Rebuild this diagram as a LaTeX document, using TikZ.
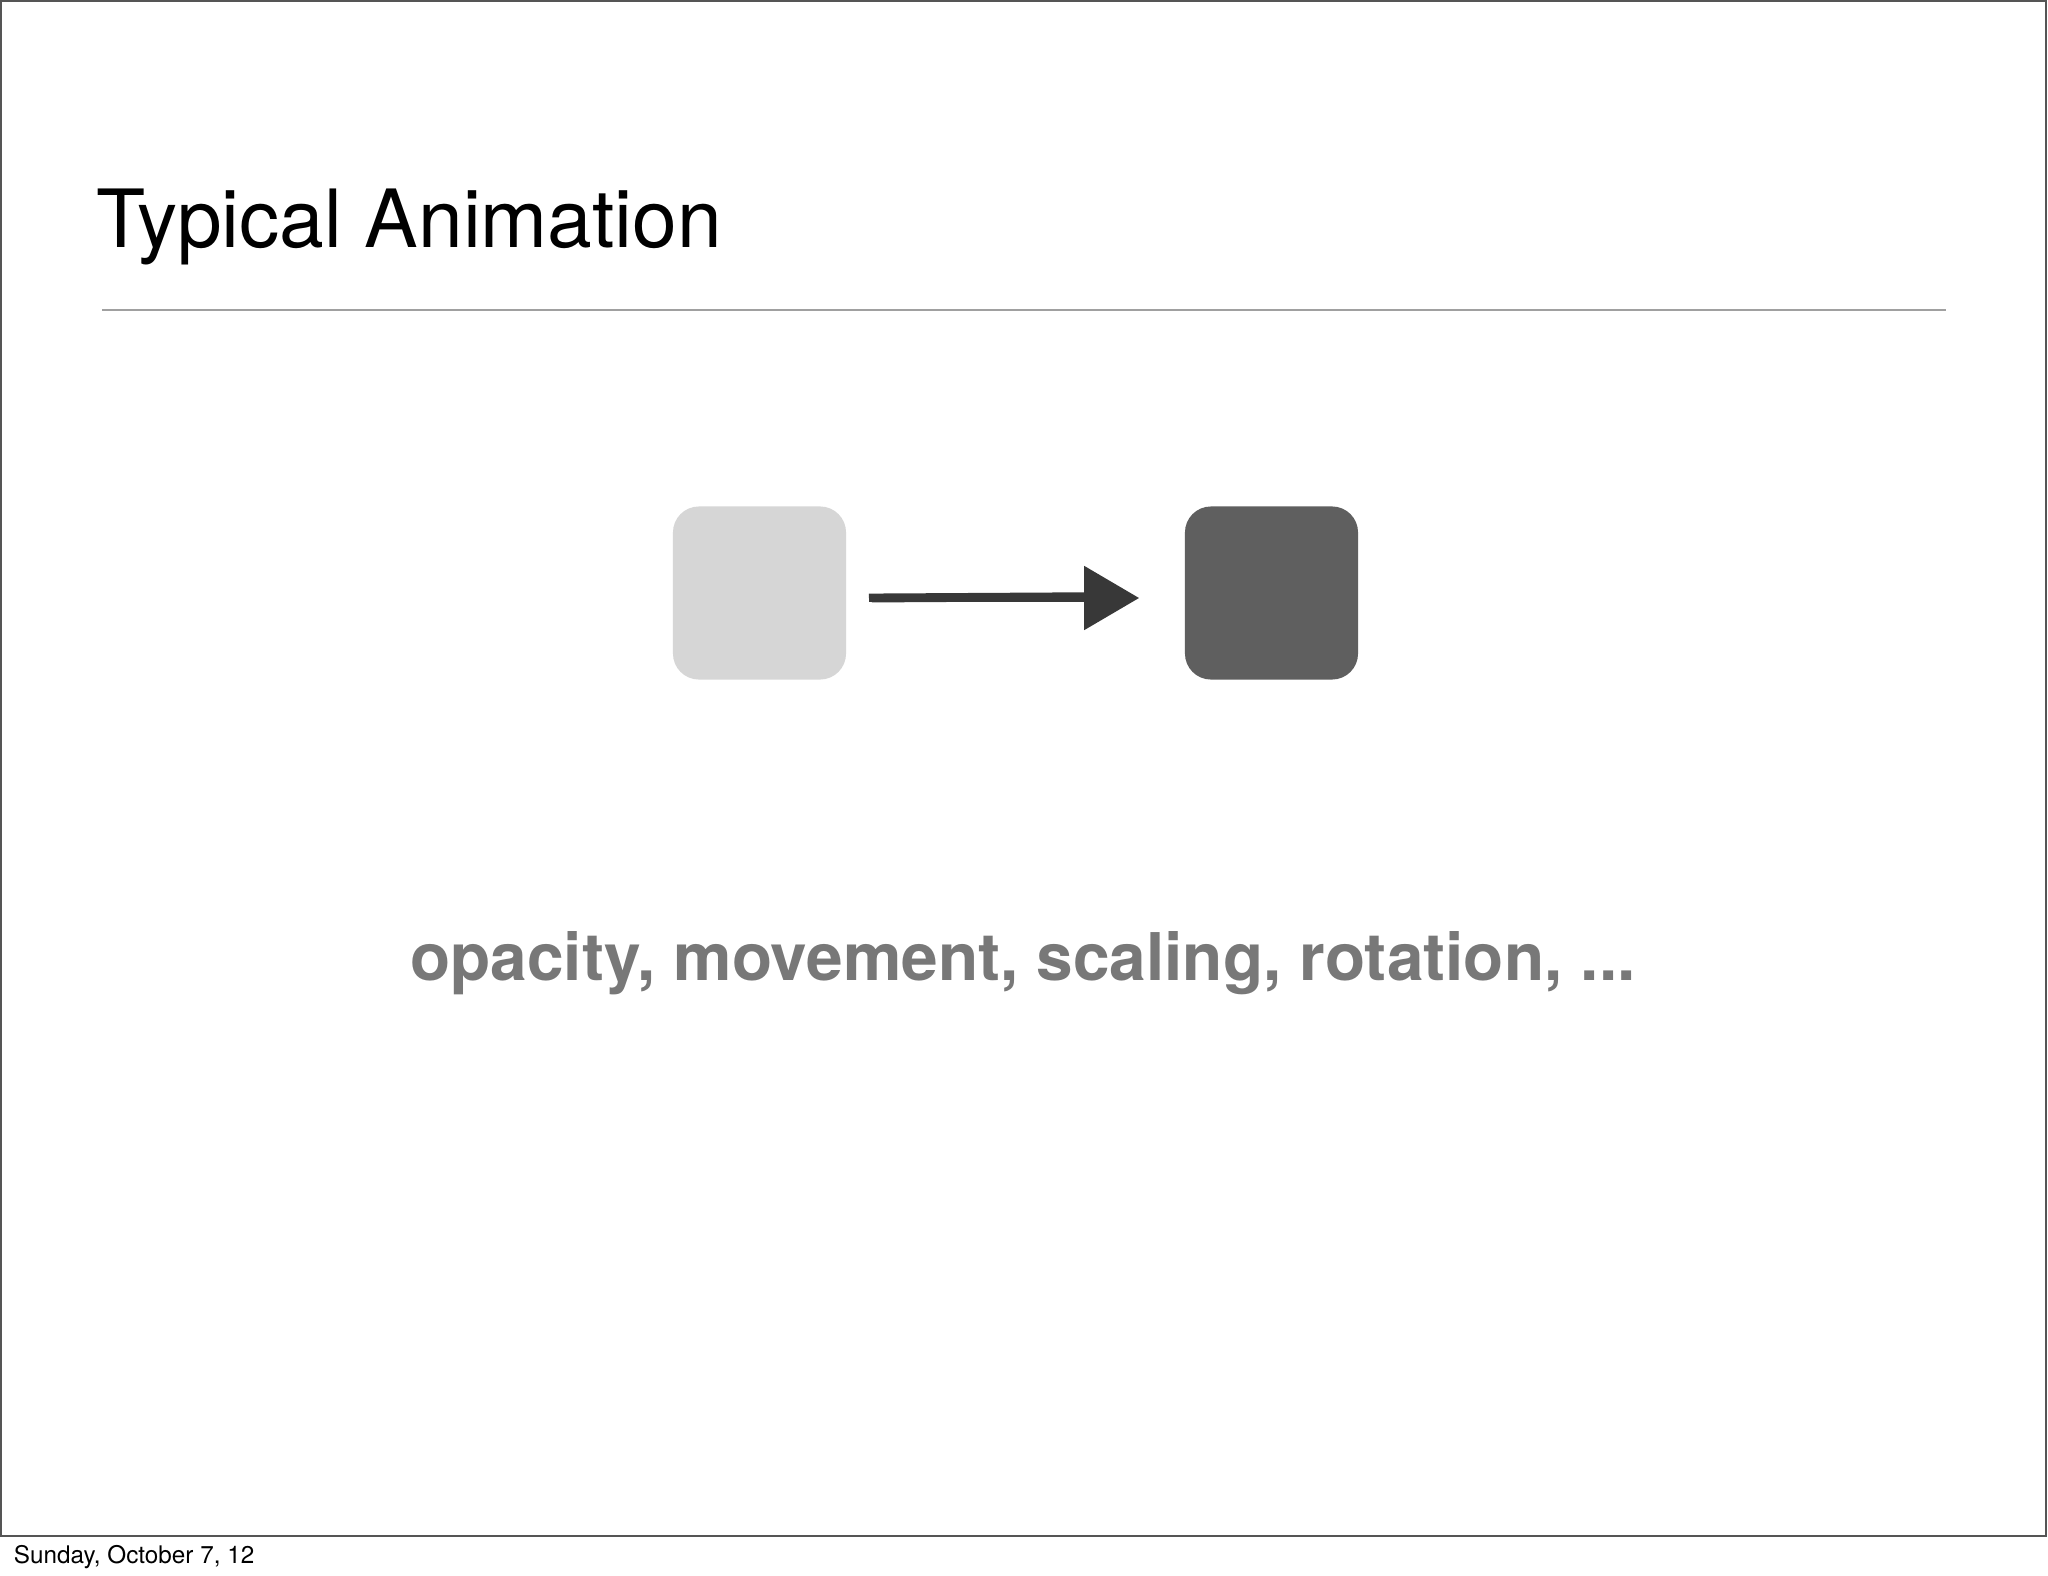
\documentclass[tikz,border=0pt]{standalone}
\usepackage{fontspec}
\setmainfont{TeX Gyre Heros}
\usetikzlibrary{arrows.meta}
\definecolor{framegray}{HTML}{555555}
\definecolor{rulegray}{HTML}{A0A0A0}
\definecolor{lightbox}{HTML}{D6D6D6}
\definecolor{darkbox}{HTML}{5F5F5F}
\definecolor{textgray}{HTML}{787878}
\definecolor{arrowgray}{HTML}{383838}
\begin{document}
\begin{tikzpicture}[x=0.01cm,y=-0.01cm,
  squarebox/.style={rounded corners=0.26cm, minimum width=1.73cm, minimum height=1.73cm, inner sep=0pt},
  sketcharrow/.style={draw=arrowgray, line width=2.4pt, shorten <=0.22cm, shorten >=0.45cm,
     -{Triangle[length=0.55cm,width=0.62cm,fill=arrowgray]}},
  plaintext/.style={inner sep=0pt, outer sep=0pt}]
  \useasboundingbox (0,0) rectangle (2048,1576);
  \fill[white] (0,0) rectangle (2048,1576);
  % slide frame
  \draw[framegray, line width=0.75pt] (1,1) rectangle (2046,1536);
  % title and rule
  \node[plaintext, anchor=base west, font=\fontsize{22.85pt}{27pt}\selectfont] (title) at (96,248) {Typical Animation};
  \coordinate (ruleL) at (102,310);
  \coordinate (ruleR) at (1946,310);
  \draw[rulegray, line width=0.6pt] (ruleL) -- (ruleR);
  % squares
  \node[squarebox, fill=lightbox] (start) at (759.5,593) {};
  \node[squarebox, fill=darkbox] (finish) at (1271.5,593) {};
  % sketchy arrow
  \draw[sketcharrow] ([yshift=-0.05cm]start.east) -- ([yshift=-0.05cm]finish.west);
  \draw[arrowgray, line width=1.3pt, shorten <=0.22cm, shorten >=0.9cm] ([yshift=-0.03cm]start.east) -- ([yshift=-0.01cm]finish.west);
  \draw[arrowgray, line width=0.9pt, shorten <=0.25cm, shorten >=1.2cm] ([yshift=-0.08cm]start.east) -- ([yshift=-0.06cm]finish.west);
  % caption
  \node[plaintext, anchor=base, text=textgray, font=\fontsize{18.7pt}{22pt}\selectfont\bfseries] (caption) at (1023,980) {opacity, movement, scaling, rotation, ...};
  % footer
  \node[plaintext, anchor=base west, font=\fontsize{6.9pt}{8pt}\selectfont] (footer) at (14,1563) {Sunday, October 7, 12};
\end{tikzpicture}
\end{document}
